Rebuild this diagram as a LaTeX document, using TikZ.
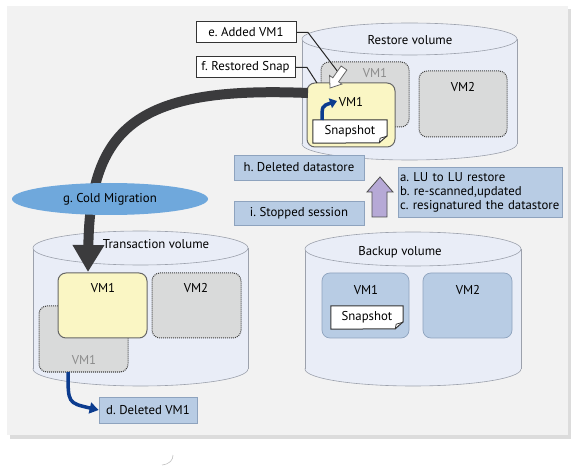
\documentclass[tikz,border=0pt]{standalone}
\usepackage{fontspec}
\setmainfont{PT Sans}
\usetikzlibrary{arrows.meta,shapes.geometric,positioning,calc}

\definecolor{panelgray}{HTML}{F2F2F2}
\definecolor{shadowgray}{HTML}{DCDCDC}
\definecolor{cylblue}{HTML}{E9EDF7}
\definecolor{cylline}{HTML}{9CA1AC}
\definecolor{oldgray}{HTML}{D9DADA}
\definecolor{vmyellow}{HTML}{FAF6C4}
\definecolor{boxblue}{HTML}{B8CCE4}
\definecolor{boxline}{HTML}{8EA3BE}
\definecolor{migblue}{HTML}{6FA8DC}
\definecolor{darkarrow}{HTML}{3B3B3D}
\definecolor{navyarrow}{HTML}{0C3C8F}
\definecolor{lavender}{HTML}{B6A9D6}

\newcommand\volcyl[5]{% centre x, top y, bottom y, x radius, y radius
  \filldraw[cylstyle] (#1,#3) ellipse [x radius=#4, y radius=#5];
  \fill[cylblue] ({#1-#4},#2) rectangle ({#1+#4},#3);
  \draw[cylline,line width=0.6pt] ({#1-#4},#2) -- ({#1-#4},#3) ({#1+#4},#2) -- ({#1+#4},#3);
  \filldraw[cylstyle] (#1,#2) ellipse [x radius=#4, y radius=#5];
}
\newcommand\labelfont{\fontsize{12.8}{14}\selectfont\frenchspacing}

\tikzset{
  cylstyle/.style={fill=cylblue,draw=cylline,line width=0.6pt},
  oldvm/.style={rectangle,rounded corners=8pt,fill=oldgray,draw=black!75,densely dotted,line width=1pt},
  newvm/.style={rectangle,rounded corners=8pt,fill=vmyellow,draw=black!60,line width=1pt},
  bakvm/.style={rectangle,rounded corners=8pt,fill=boxblue,draw=boxline,line width=0.7pt},
  vmtext/.style={inner sep=0pt,font=\labelfont},
  greytext/.style={vmtext,text=black!45},
  snapnote/.style={rectangle,inner sep=0pt,font=\labelfont},
  stepnote/.style={rectangle,fill=boxblue,draw=boxline,line width=0.7pt,inner sep=0pt,font=\labelfont},
  callout/.style={rectangle,fill=white,draw=black!80,line width=1pt,inner sep=0pt,font=\labelfont}
}

\begin{document}
\begin{tikzpicture}[x=1pt,y=-1pt]
\useasboundingbox (0,0) rectangle (582,468);
% panel
\fill[shadowgray] (10,9) rectangle (571,439);
\fill[panelgray] (7,6) rectangle (568,435);
\draw[black!25,line width=0.6pt] (162,465) .. controls (170,464) and (173,460) .. (173,455);

% restore volume
\volcyl{409.5}{39}{144}{107.5}{16}
\node[vmtext] (rlabel) at (410,40) {Restore volume};
\node[oldvm,minimum width=88pt,minimum height=65pt] (rold) at (365,94.5) {};
\node[greytext] (roldt) at (375,73) {VM1};
\node[oldvm,minimum width=88pt,minimum height=66pt] (rvm2) at (463,104) {};
\node[vmtext] (rvm2t) at (463,87) {VM2};
\node[newvm,minimum width=88pt,minimum height=64pt] (rvm1) at (351,115) {};
\node[vmtext] (rvm1t) at (351,102) {VM1};
\node[snapnote,minimum width=74pt,minimum height=23pt] (rsnap) at (350,131.5) {};
\draw[black!80,line width=1pt,fill=white]
  (rsnap.north west) -- (rsnap.north east) -- ++(0,16) -- ++(-8,7) -- (rsnap.south west) -- cycle;
\draw[black!80,line width=0.8pt] ($(rsnap.south east)+(-8,0)$) -- ++(1,-5) -- ++(7,-2);
\node[snapnote] at (rsnap) {Snapshot};
\draw[navyarrow,line width=3.5pt,-{Triangle[width=10pt,length=7pt]}]
  (322,120) .. controls (322,106) .. (337,101);

% transaction volume
\volcyl{140.5}{248}{369}{107.5}{17}
\node[vmtext] (tlabel) at (156,244) {Transaction volume};
\node[oldvm,minimum width=89pt,minimum height=66pt] (told) at (83.5,339) {};
\node[greytext] (toldt) at (84,360) {VM1};
\node[newvm,minimum width=89pt,minimum height=65pt] (tvm1) at (102.5,305.5) {};
\node[vmtext] (tvm1t) at (103,288) {VM1};
\node[oldvm,minimum width=89pt,minimum height=65pt] (tvm2) at (196.5,305.5) {};
\node[vmtext] (tvm2t) at (196,288) {VM2};

% backup volume
\volcyl{413}{249}{369}{108}{17}
\node[vmtext] (blabel) at (400,252) {Backup volume};
\node[bakvm,minimum width=87pt,minimum height=65pt] (bvm1) at (365.5,305.5) {};
\node[vmtext] (bvm1t) at (366,290) {VM1};
\node[bakvm,minimum width=89pt,minimum height=65pt] (bvm2) at (467.5,305.5) {};
\node[vmtext] (bvm2t) at (468,290) {VM2};
\node[snapnote,minimum width=72pt,minimum height=23pt] (bsnap) at (367,317.5) {};
\draw[black!80,line width=1pt,fill=white]
  (bsnap.north west) -- (bsnap.north east) -- ++(0,16) -- ++(-8,7) -- (bsnap.south west) -- cycle;
\draw[black!80,line width=0.8pt] ($(bsnap.south east)+(-8,0)$) -- ++(1,-5) -- ++(7,-2);
\node[snapnote] at (bsnap) {Snapshot};

% steps
\node[stepnote,minimum width=130pt,minimum height=25pt] (hstep) at (299,167.5) {h. Deleted datastore};
\node[stepnote,minimum width=130pt,minimum height=24pt] (istep) at (299,213) {i. Stopped session};
\node[stepnote,minimum width=164pt,minimum height=50pt,align=left,text width=160pt] (abcstep) at (480,192)
  {a. LU to LU restore\\ b. re-scanned,updated\\ c. resignatured the datastore};
\filldraw[fill=lavender,draw=black!70,line width=0.8pt]
  (372,217) -- (372,192) -- (367,192) -- (380,177) -- (393,192) -- (387,192) -- (387,217) -- cycle;
\node[stepnote,minimum width=98pt,minimum height=26pt] (dstep) at (148,410) {d. Deleted VM1};
\draw[navyarrow,line width=3.5pt,-{Triangle[width=11pt,length=9pt]}]
  (68,372) .. controls (68,403) .. (dstep.west);

% cold migration
\draw[darkarrow,line width=10pt,-{Triangle[width=30pt,length=27pt]}]
  (308,93) .. controls (140,86) and (90,125) .. (88,272);
\node[ellipse,fill=migblue,minimum width=196pt,minimum height=32pt,inner sep=0pt,
  font=\labelfont] (gmig) at (110,199) {g. Cold Migration};

% callouts
\node[callout,minimum width=100pt,minimum height=21pt] (ecall) at (246,32.5) {e. Added VM1};
\node[callout,minimum width=99pt,minimum height=21pt] (fcall) at (245.5,67.5) {f. Restored Snap};
\draw[black!85,line width=1pt] (ecall.east) -- (308,32.5) -- (338,72);
\draw[black!85,line width=1pt] (fcall.east) -- (307,67.5) -- (317,83);
\filldraw[fill=white,draw=black!60,line width=0.8pt]
  (346.9,70.0) -- (338.6,81.8) -- (341.9,84.1) -- (330,88) -- (329.6,75.5) -- (332.8,77.8) -- (341.1,66.0) -- cycle;
\end{tikzpicture}
\end{document}
